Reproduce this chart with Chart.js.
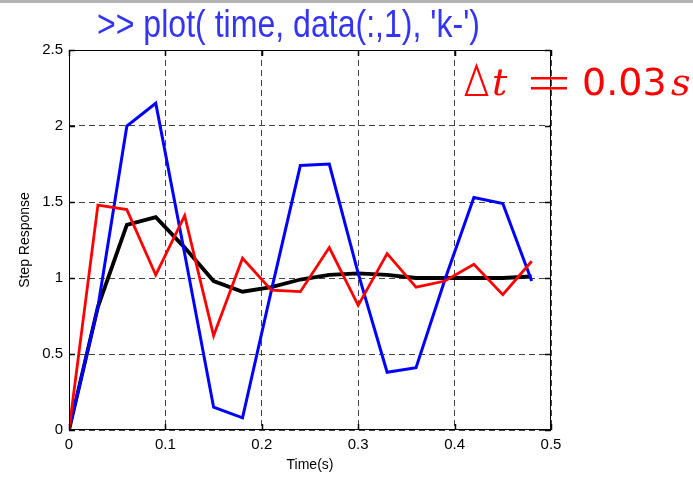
<!DOCTYPE html>
<html>
<head>
<meta charset="utf-8">
<script src="https://cdn.jsdelivr.net/npm/chart.js@4"></script>
<style>
  html, body { margin: 0; padding: 0; background: #fff; }
  #wrap { width: 693px; height: 477px; position: relative; }
</style>
</head>
<body>
<div id="wrap"><canvas id="chart" width="693" height="477"></canvas></div>
<script>
// sample times (s)
const time = [0, 0.03, 0.06, 0.09, 0.12, 0.15, 0.18, 0.21, 0.24, 0.27, 0.30, 0.33, 0.36, 0.39, 0.42, 0.45, 0.48];
// step responses
const blackResp = [0, 0.81, 1.35, 1.40, 1.20, 0.98, 0.91, 0.94, 0.99, 1.02, 1.03, 1.02, 1.00, 1.00, 1.00, 1.00, 1.01];
const blueResp  = [0, 0.81, 2.00, 2.15, 1.16, 0.15, 0.08, 0.92, 1.74, 1.75, 1.03, 0.38, 0.41, 0.99, 1.53, 1.49, 0.98];
const redResp   = [0, 1.48, 1.45, 1.02, 1.41, 0.62, 1.13, 0.92, 0.91, 1.20, 0.82, 1.16, 0.94, 0.98, 1.09, 0.89, 1.11];
const xTicks = [0, 0.1, 0.2, 0.3, 0.4, 0.5];
const yTicks = [0, 0.5, 1, 1.5, 2, 2.5];
const xTickLabels = ['0', '0.1', '0.2', '0.3', '0.4', '0.5'];
const yTickLabels = ['0', '0.5', '1', '1.5', '2', '2.5'];

function pts(ys) {
    return time.map((t, i) => ({ x: t, y: ys[i] }));
}

const decorations = {
    id: 'decorations',
    beforeDraw(chart) {
        const c = chart.ctx;
        c.save();
        c.fillStyle = '#fff';
        c.fillRect(0, 0, chart.width, chart.height);
        c.fillStyle = '#b4b4b4';
        c.fillRect(0, 0, chart.width, 3);
        c.restore();
    },
    afterDatasetsDraw(chart) {
        const c = chart.ctx;
        const a = chart.chartArea;
        const xs = chart.scales.x, ys = chart.scales.y;
        c.save();
        // box + inward ticks
        c.strokeStyle = '#000';
        c.lineWidth = 1;
        c.strokeRect(a.left + 0.5, a.top + 0.5, a.right - a.left - 1, a.bottom - a.top - 1);
        c.lineWidth = 1.5;
        c.beginPath();
        xTicks.forEach(v => {
            const px = Math.round(xs.getPixelForValue(v)) + 0.5;
            c.moveTo(px, a.top); c.lineTo(px, a.top + 6);
            c.moveTo(px, a.bottom); c.lineTo(px, a.bottom - 6);
        });
        yTicks.forEach(v => {
            const py = Math.round(ys.getPixelForValue(v)) + 0.5;
            c.moveTo(a.left, py); c.lineTo(a.left + 6, py);
            c.moveTo(a.right, py); c.lineTo(a.right - 6, py);
        });
        c.stroke();
        c.restore();
    },
    afterDraw(chart) {
        const c = chart.ctx;
        c.save();
        // command line title, condensed
        c.fillStyle = '#3434f4';
        c.font = '38px "Liberation Sans", Arial, sans-serif';
        c.textBaseline = 'alphabetic';
        const txt = ">> plot( time, data(:,1), 'k-')";
        const w = c.measureText(txt).width;
        c.translate(97, 37);
        c.scale(383 / w, 1);
        c.fillText(txt, 0, 0);
        c.restore();

        // delta t annotation
        c.save();
        c.fillStyle = '#ff0000';
        c.strokeStyle = '#ff0000';
        c.lineWidth = 2.2;
        c.beginPath();
        c.moveTo(466, 95);
        c.lineTo(487, 95);
        c.lineTo(476.5, 66);
        c.closePath();
        c.stroke();
        c.textBaseline = 'alphabetic';
        c.font = 'italic 38px "DejaVu Serif", serif';
        c.fillText('t', 492, 95);
        c.fillText('s', 671, 95);
        c.fillRect(531, 77, 36, 2.5);
        c.fillRect(531, 87, 36, 2.5);
        c.font = '38px "DejaVu Sans", sans-serif';
        c.fillText('0.03', 582, 95);
        c.restore();
    }
};

function renderChart() {
    const ctx = document.getElementById('chart').getContext('2d');
    new Chart(ctx, {
        type: 'line',
        data: {
            datasets: [
                { label: 'red', data: pts(redResp), borderColor: '#ff0000', borderWidth: 2.8, order: 1 },
                { label: 'blue', data: pts(blueResp), borderColor: '#0000ff', borderWidth: 3, order: 2 },
                { label: 'black', data: pts(blackResp), borderColor: '#000000', borderWidth: 3.8, order: 3 }
            ]
        },
        options: {
            responsive: false,
            animation: false,
            events: [],
            elements: { point: { radius: 0 }, line: { tension: 0, fill: false, borderJoinStyle: 'miter' } },
            layout: { padding: { left: 0, right: 142, top: 50, bottom: 0 } },
            plugins: { legend: { display: false }, tooltip: { enabled: false } },
            scales: {
                x: {
                    type: 'linear', min: 0, max: 0.5,
                    afterBuildTicks: s => { s.ticks = xTicks.map(v => ({ value: v })); },
                    afterFit: s => { s.height = 47; },
                    grid: { color: '#444', lineWidth: 1, drawTicks: false },
                    border: { display: false, dash: [6, 4] },
                    ticks: {
                        padding: 6, color: '#000',
                        font: { family: '"Liberation Sans", Arial, sans-serif', size: 15 },
                        callback: (v, i) => xTickLabels[i]
                    },
                    title: {
                        display: true, text: 'Time(s)', color: '#000',
                        font: { family: '"Liberation Sans", Arial, sans-serif', size: 14 },
                        padding: { top: 0, bottom: 3 }
                    }
                },
                y: {
                    type: 'linear', min: 0, max: 2.5,
                    afterBuildTicks: s => { s.ticks = yTicks.map(v => ({ value: v })); },
                    afterFit: s => { s.width = 69; },
                    grid: { color: '#444', lineWidth: 1, drawTicks: false },
                    border: { display: false, dash: [6, 4] },
                    ticks: {
                        padding: 6, color: '#000',
                        font: { family: '"Liberation Sans", Arial, sans-serif', size: 15 },
                        callback: (v, i) => yTickLabels[i]
                    },
                    title: {
                        display: true, text: 'Step Response', color: '#000',
                        font: { family: '"Liberation Sans", Arial, sans-serif', size: 14 },
                        padding: { top: 17, bottom: 0 }
                    }
                }
            }
        },
        plugins: [decorations]
    });
}
renderChart();
</script>
</body>
</html>
